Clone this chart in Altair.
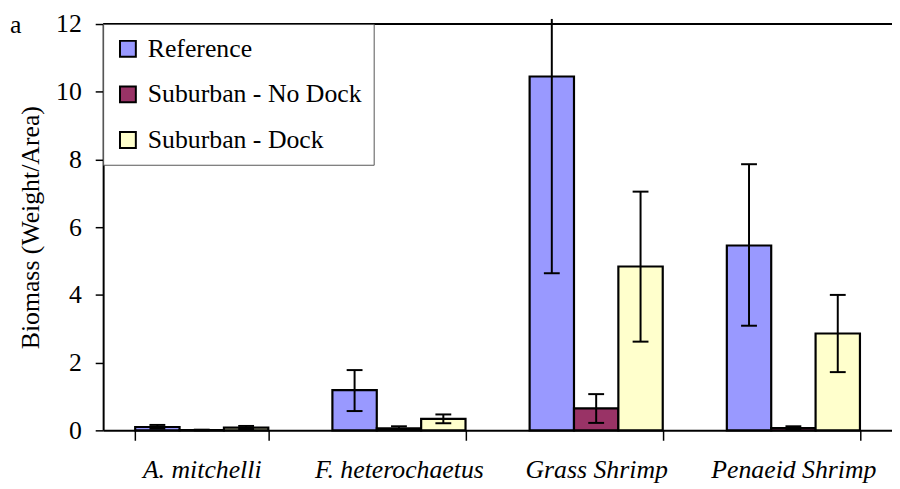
import altair as alt
import pandas as pd

categories = ["A. mitchelli", "F. heterochaetus", "Grass Shrimp", "Penaeid Shrimp"]
series = ["Reference", "Suburban - No Dock", "Suburban - Dock"]
colors = ["#9999FF", "#993366", "#FFFFCC"]

ref_mean = [0.10, 1.19, 10.45, 5.46]
ref_lo = [0.05, 0.57, 4.64, 3.09]
ref_hi = [0.16, 1.78, 12.15, 7.86]

nodock_mean = [0.01, 0.06, 0.65, 0.07]
nodock_lo = [0.00, 0.03, 0.22, 0.04]
nodock_hi = [0.02, 0.12, 1.07, 0.12]

dock_mean = [0.08, 0.34, 4.84, 2.86]
dock_lo = [0.04, 0.21, 2.62, 1.72]
dock_hi = [0.13, 0.47, 7.05, 4.00]

y_ticks = [0, 2, 4, 6, 8, 10, 12]

rows = []
for s, ms, ls, hs in zip(series,
                         [ref_mean, nodock_mean, dock_mean],
                         [ref_lo, nodock_lo, dock_lo],
                         [ref_hi, nodock_hi, dock_hi]):
    for c, m, l, h in zip(categories, ms, ls, hs):
        rows.append({"cat": c, "series": s, "mean": m, "lo": l, "hi": h})
df = pd.DataFrame(rows)

FONT = "Liberation Serif, Times New Roman, Times, serif"

x_enc = alt.X(
    "cat:N", sort=categories,
    scale=alt.Scale(paddingInner=0.325, paddingOuter=0.1625),
    axis=alt.Axis(title=None, labelAngle=0, labelFontStyle="italic", tickBand="extent",
                  tickSize=10, labelPadding=17),
)
xo_enc = alt.XOffset("series:N", sort=series,
                     scale=alt.Scale(domain=series, paddingInner=0, paddingOuter=0))
y_axis = alt.Axis(values=y_ticks, title="Biomass (Weight/Area)", tickSize=8,
                  labelPadding=14, titlePadding=12, grid=False)
y_scale = alt.Scale(domain=[0, 12], nice=False, zero=True)

base = alt.Chart(df)

bars = base.mark_bar(stroke="black", strokeWidth=2.2, opacity=1).encode(
    x=x_enc, xOffset=xo_enc,
    y=alt.Y("mean:Q", scale=y_scale, axis=y_axis),
    color=alt.Color("series:N", sort=series,
                    scale=alt.Scale(domain=series, range=colors),
                    legend=alt.Legend(
                        title=None, orient="none", legendX=0, legendY=0,
                        symbolType="square", symbolSize=256,
                        symbolStrokeColor="black", symbolStrokeWidth=2,
                        symbolOpacity=1,
                        fillColor="white", strokeColor="#555555",
                        padding=12, rowPadding=20, labelOffset=7,
                        labelFont=FONT, labelFontSize=26, labelColor="black",
                        labelLimit=400)),
)

err = base.mark_rule(color="black", strokeWidth=2).encode(
    x=x_enc, xOffset=xo_enc,
    y=alt.Y("lo:Q", scale=y_scale, axis=y_axis), y2="hi:Q",
)

cap_lo = base.mark_tick(color="black", thickness=2, size=16, opacity=1).encode(
    x=x_enc, xOffset=xo_enc,
    y=alt.Y("lo:Q", scale=y_scale, axis=y_axis),
)

cap_hi = base.transform_filter("datum.hi <= 12").mark_tick(
    color="black", thickness=2, size=16, opacity=1).encode(
    x=x_enc, xOffset=xo_enc,
    y=alt.Y("hi:Q", scale=y_scale, axis=y_axis),
)

top_line = alt.Chart(pd.DataFrame({"v": [12]})).mark_rule(
    color="black", strokeWidth=2).encode(y=alt.Y("v:Q", scale=y_scale, axis=y_axis))

panel = alt.Chart(pd.DataFrame({"t": ["a"]})).mark_text(
    align="left", baseline="alphabetic", font=FONT, fontSize=26, color="black"
).encode(x=alt.value(-94), y=alt.value(9), text="t:N")

chart = alt.layer(top_line, bars, err, cap_lo, cap_hi, panel).properties(
    width=796, height=410,
    autosize=alt.AutoSizeParams(type="none"),
    padding={"left": 96, "top": 14, "right": 0, "bottom": 57},
).configure_view(stroke=None).configure_axis(
    labelFont=FONT, titleFont=FONT, labelFontSize=26, titleFontSize=26,
    titleFontWeight="normal", labelColor="black", titleColor="black",
    domainColor="black", domainWidth=2, tickColor="black", tickWidth=1.5,
).configure_text(font=FONT)

chart.save("out.html", embed_options={"renderer": "svg", "actions": False})
